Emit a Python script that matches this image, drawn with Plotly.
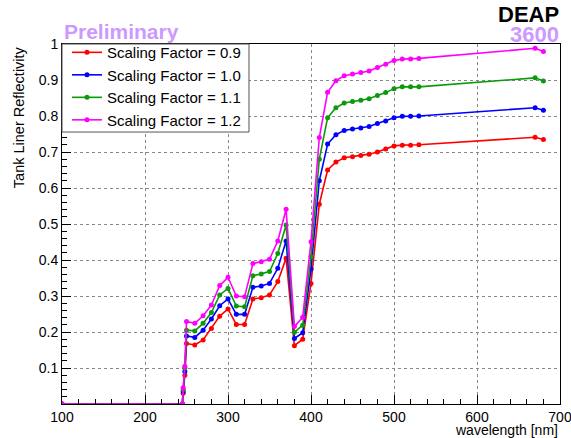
import plotly.graph_objects as go

wavelength = [100, 245, 246, 248, 250, 260, 270, 280, 290, 300, 310, 320, 330, 340,
              350, 360, 370, 380, 390, 400, 410, 420, 430, 440, 450, 460, 470, 480,
              490, 500, 510, 520, 530, 670, 680]

refl_09 = [0, 0, 0.03, 0.08, 0.168, 0.164, 0.178, 0.21, 0.244, 0.264, 0.221, 0.221,
           0.292, 0.295, 0.303, 0.34, 0.405, 0.162, 0.18, 0.335, 0.555, 0.65, 0.672,
           0.684, 0.687, 0.69, 0.694, 0.70, 0.708, 0.717, 0.719, 0.719, 0.72, 0.741, 0.735]
refl_10 = [0, 0, 0.035, 0.09, 0.189, 0.185, 0.205, 0.236, 0.273, 0.292, 0.249, 0.249,
           0.324, 0.328, 0.335, 0.377, 0.453, 0.182, 0.198, 0.375, 0.62, 0.722, 0.748,
           0.76, 0.764, 0.767, 0.771, 0.779, 0.786, 0.795, 0.799, 0.799, 0.80, 0.823, 0.816]
refl_11 = [0, 0, 0.04, 0.10, 0.205, 0.203, 0.224, 0.254, 0.303, 0.321, 0.272, 0.270,
           0.356, 0.361, 0.368, 0.418, 0.497, 0.199, 0.219, 0.41, 0.68, 0.795, 0.823,
           0.836, 0.84, 0.844, 0.848, 0.857, 0.865, 0.876, 0.881, 0.881, 0.881, 0.906, 0.897]
refl_12 = [0, 0, 0.045, 0.105, 0.229, 0.224, 0.245, 0.275, 0.329, 0.352, 0.30, 0.298,
           0.39, 0.395, 0.402, 0.453, 0.541, 0.215, 0.241, 0.451, 0.74, 0.866, 0.898,
           0.912, 0.917, 0.921, 0.925, 0.935, 0.944, 0.954, 0.958, 0.958, 0.96, 0.988, 0.979]

series_names = ["Scaling Factor = 0.9", "Scaling Factor = 1.0",
                "Scaling Factor = 1.1", "Scaling Factor = 1.2"]
series_values = [refl_09, refl_10, refl_11, refl_12]
colors = ["#ff0000", "#0000ff", "#0a9a0a", "#ff00ff"]

y_tickvals = [0.1, 0.2, 0.3, 0.4, 0.5, 0.6, 0.7, 0.8, 0.9, 1.0]
y_ticktext = ["0.1", "0.2", "0.3", "0.4", "0.5", "0.6", "0.7", "0.8", "0.9", "1"]
x_tickvals = [100, 200, 300, 400, 500, 600, 700]

FONT = "Liberation Sans, Arial, Helvetica, sans-serif"

fig = go.Figure()
for name, vals, col in zip(series_names, series_values, colors):
    fig.add_trace(go.Scatter(
        x=wavelength, y=vals, name=name, mode="lines+markers",
        line=dict(color=col, width=1.6),
        marker=dict(color=col, size=5, symbol="circle"),
    ))

fig.update_layout(
    width=571, height=438,
    margin=dict(l=62, r=11, t=44, b=34, autoexpand=False),
    paper_bgcolor="white", plot_bgcolor="white",
    font=dict(family=FONT, size=14, color="black"),
    showlegend=True,
    legend=dict(x=0.01, y=1.022, xanchor="left", yanchor="top",
                bgcolor="rgba(0,0,0,0)", borderwidth=0,
                font=dict(family=FONT, size=15, color="black"),
                tracegroupgap=0, itemwidth=30),
)

# legend frame (ROOT-style box aligned with the plot frame)
fig.add_shape(type="rect", xref="paper", yref="paper",
              x0=0, x1=0.3755, y0=0.7555, y1=1.0,
              line=dict(color="#555555", width=1), fillcolor="white", layer="above")

fig.update_xaxes(
    range=[100, 700], tickvals=x_tickvals, automargin=False,
    ticks="inside", ticklen=9, tickcolor="black", tickwidth=1,
    showline=True, linecolor="black", linewidth=1, mirror=True,
    showgrid=True, gridcolor="#888888", griddash="dot", gridwidth=1,
    zeroline=False, ticklabeloverflow="allow",
    minor=dict(dtick=20, ticks="inside", ticklen=5, tickcolor="black", showgrid=False),
    tickfont=dict(family=FONT, size=14),
)
fig.update_yaxes(
    range=[0, 1], tickvals=y_tickvals, ticktext=y_ticktext, automargin=False,
    ticks="inside", ticklen=9, tickcolor="black", tickwidth=1,
    showline=True, linecolor="black", linewidth=1, mirror=True,
    showgrid=True, gridcolor="#888888", griddash="dot", gridwidth=1,
    zeroline=False,
    minor=dict(dtick=0.02, ticks="inside", ticklen=5, tickcolor="black", showgrid=False),
    tickfont=dict(family=FONT, size=14),
)

# axis titles (ROOT style: right/top aligned)
fig.add_annotation(text="wavelength [nm]", xref="paper", yref="paper",
                   x=1, y=-0.072, xanchor="right", yanchor="middle",
                   showarrow=False, font=dict(family=FONT, size=14))
fig.add_annotation(text="Tank Liner Reflectivity", xref="paper", yref="paper",
                   x=-0.086, y=1.0, xanchor="center", yanchor="top", textangle=-90,
                   showarrow=False, font=dict(family=FONT, size=14.5))

# labels
fig.add_annotation(text="<b>Preliminary</b>", xref="paper", yref="paper",
                   x=0, y=1.036, xanchor="left", yanchor="middle",
                   showarrow=False, font=dict(family=FONT, size=21, color="#cc99ff"))
fig.add_annotation(text="<b>DEAP</b>", xref="paper", yref="paper",
                   x=1.002, y=1.081, xanchor="right", yanchor="middle",
                   showarrow=False, font=dict(family=FONT, size=22, color="black"))
fig.add_annotation(text="<b>3600</b>", xref="paper", yref="paper",
                   x=1.002, y=1.027, xanchor="right", yanchor="middle",
                   showarrow=False, font=dict(family=FONT, size=22, color="#cc99ff"))

fig.write_html("out.html", config={"displayModeBar": False},
               post_script="document.body.style.margin='0px';document.body.style.padding='0px';")
